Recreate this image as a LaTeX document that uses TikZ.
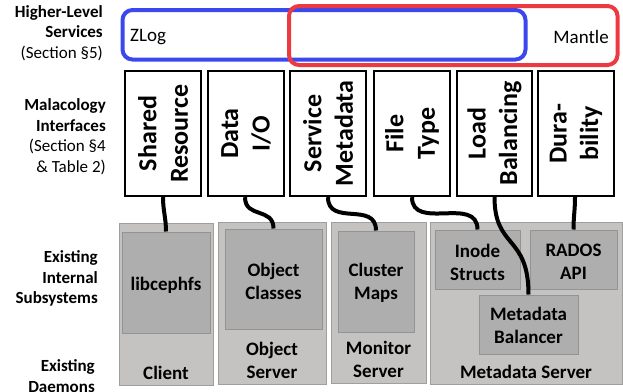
\documentclass[tikz,border=0pt]{standalone}
\usepackage{fontspec}
\setmainfont{Carlito}
\begin{document}
\begin{tikzpicture}[x=1pt,y=-1pt,
  lefttxt/.style={anchor=east,align=right,inner sep=0pt,font=\fontsize{17}{20.5}\selectfont},
  ibox/.style={draw=black,line width=2.4pt,fill=white,minimum width=76pt,minimum height=125pt,inner sep=0pt},
  itext/.style={rotate=90,align=center,inner sep=0pt,font=\fontsize{26}{31.5}\selectfont\bfseries},
  dbox/.style={draw=gray!75,line width=1pt,fill={rgb,255:red,197;green,194;blue,194},inner sep=0pt},
  sbox/.style={draw=gray!85,line width=1pt,fill={rgb,255:red,174;green,174;blue,174},inner sep=0pt},
  dlabel/.style={align=center,inner sep=0pt,font=\fontsize{19}{23}\selectfont\bfseries},
  conn/.style={line width=4pt,black},
  svc/.style={line width=4pt,rounded corners=10pt}
]
\definecolor{svcblue}{RGB}{58,72,238}
\definecolor{svcred}{RGB}{236,58,66}
\useasboundingbox (0,0) rectangle (623,391);

% left labels
\node[lefttxt] (l1) at (103,33) {\bfseries Higher-Level\\\bfseries Services\\(Section §5)};
\node[lefttxt] (l2) at (106,136.5) {\bfseries Malacology\\\bfseries Interfaces\\(Section §4\\\& Table 2)};
\node[lefttxt] (l3) at (98,278.5) {\bfseries Existing\\\bfseries Internal\\\bfseries Subsystems};
\node[lefttxt] (l4) at (95,376) {\bfseries Existing\\\bfseries Daemons};

% higher-level services
\draw[svc,draw=svcblue] (122.5,10) rectangle (525.5,59.5);
\draw[svc,draw=svcred] (289,6) rectangle (617.5,65);
\node[anchor=west,inner sep=0pt,font=\fontsize{19}{23}\selectfont] (zlog) at (130,37) {ZLog};
\node[anchor=east,inner sep=0pt,font=\fontsize{19}{23}\selectfont] (mantle) at (609,37) {Mantle};

% interfaces
\node[ibox] (i1) at (163,133.5) {};
\node[ibox] (i2) at (246,133.5) {};
\node[ibox] (i3) at (328,133.5) {};
\node[ibox] (i4) at (412,133.5) {};
\node[ibox,minimum width=75pt] (i5) at (494.5,133.5) {};
\node[ibox] (i6) at (576,133.5) {};
\node[itext] (t1) at (i1) {Shared\\Resource};
\node[itext] (t2) at (i2) {Data\\I/O};
\node[itext] (t3) at (i3) {Service\\Metadata};
\node[itext] (t4) at (i4) {File\\Type};
\node[itext] (t5) at (i5) {Load\\Balancing};
\node[itext] (t6) at (i6) {Dura-\\bility};

% daemons
\node[dbox,minimum width=94pt,minimum height=162pt] (client) at (166,304) {};
\node[dbox,minimum width=108pt,minimum height=162pt] (osd) at (272,303) {};
\node[dbox,minimum width=95pt,minimum height=161pt] (mon) at (378.5,302.5) {};
\node[dbox,minimum width=192pt,minimum height=162pt] (mds) at (526,303) {};
\node[dlabel] (clientl) at (166,373) {Client};
\node[dlabel] (osdl) at (272,360.5) {Object\\Server};
\node[dlabel] (monl) at (378.5,359.5) {Monitor\\Server};
\node[dlabel] (mdsl) at (526,372) {Metadata Server};

% subsystems
\node[sbox,minimum width=88pt,minimum height=101pt] (lib) at (166,282.5) {};
\node[sbox,minimum width=97pt,minimum height=100pt] (oc) at (273.5,279) {};
\node[sbox,minimum width=76pt,minimum height=101pt] (cm) at (376,281.5) {};
\node[sbox,minimum width=85pt,minimum height=59pt] (ino) at (477.5,259.5) {};
\node[sbox,minimum width=87pt,minimum height=59pt] (rados) at (573.5,259.5) {};
\node[sbox,minimum width=99pt,minimum height=59pt] (mb) at (528.5,324.5) {};
\node[dlabel] (libl) at ([yshift=-2.5pt]lib.center) {libcephfs};
\node[dlabel] (ocl) at ([yshift=-2.5pt]oc.center) {Object\\Classes};
\node[dlabel] (cml) at ([yshift=-1.5pt]cm.center) {Cluster\\Maps};
\node[dlabel] (inol) at ([yshift=-2.5pt]ino.center) {Inode\\Structs};
\node[dlabel] (radosl) at ([yshift=-2.5pt]rados.center) {RADOS\\API};
\node[dlabel] (mbl) at ([yshift=-1pt]mb.center) {Metadata\\Balancer};

% connectors
\draw[conn] (i1.south) to[out=-90,in=90] (lib.north);
\draw[conn] ([xshift=-1pt]i2.south) to[out=-90,in=90,looseness=1.3] (oc.north);
\draw[conn] (i3.south) to[out=-90,in=90,looseness=1.3] (cm.north);
\draw[conn] (i4.south) to[out=-90,in=90,looseness=1.2] (ino.north);
\draw[conn] (i5.south) .. controls ([yshift=-52pt]i5.south) and ([yshift=60pt]mb.north) .. (mb.north);
\draw[conn] ([xshift=-1pt]i6.south) to[out=-90,in=90] (rados.north);
\end{tikzpicture}
\end{document}
